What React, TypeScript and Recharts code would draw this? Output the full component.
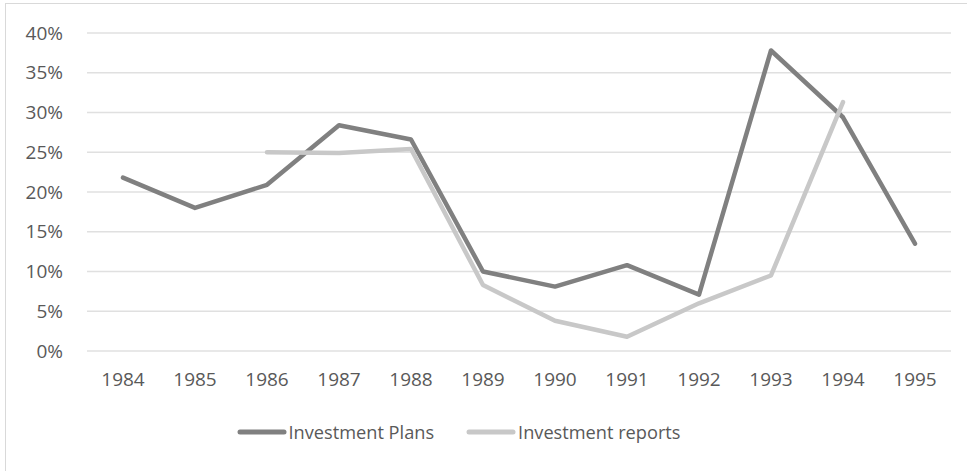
import { CartesianGrid, Legend, Line, LineChart, XAxis, YAxis } from "recharts";

const years = ["1984", "1985", "1986", "1987", "1988", "1989", "1990", "1991", "1992", "1993", "1994", "1995"];
const plans = [21.8, 18.0, 20.9, 28.4, 26.6, 10.0, 8.1, 10.8, 7.1, 37.8, 29.4, 13.5];
const reports = [null, null, 25.0, 24.9, 25.4, 8.3, 3.8, 1.8, 6.0, 9.5, 31.3, null];
const yTicks = [0, 5, 10, 15, 20, 25, 30, 35, 40];

const rows = years.map((year, i) => ({ year, plans: plans[i], reports: reports[i] }));

const FONT = "'Open Sans', sans-serif";
const TEXT = "#595959";
const DARK = "#808080";
const LIGHT = "#c8c8c8";

function LegendBox({ payload }: { payload?: any[] }) {
  return (
    <div style={{ display: "flex", justifyContent: "center", gap: 32, fontFamily: FONT, fontSize: 18.2, color: TEXT }}>
      {(payload || []).map((p) => (
        <div key={p.value} style={{ display: "flex", alignItems: "center" }}>
          <svg width={50} height={10}>
            <line x1={3} y1={5} x2={47} y2={5} stroke={p.color} strokeWidth={5} strokeLinecap="round" />
          </svg>
          <span style={{ marginLeft: 2 }}>{p.value}</span>
        </div>
      ))}
    </div>
  );
}

export default function App() {
  return (
    <div style={{ position: "absolute", left: 0, top: 0, width: 967, height: 471, overflow: "hidden", background: "#fff" }}>
      <div style={{ position: "absolute", left: 5, top: 3, width: 980, height: 490, border: "1px solid #d9d9d9" }} />
      <LineChart width={967} height={471} data={rows} margin={{ top: 33, right: 16, bottom: 44, left: 0 }}>
        <CartesianGrid vertical={false} stroke="#e0e0e0" strokeWidth={1.5} />
        <XAxis
          dataKey="year"
          axisLine={false}
          tickLine={false}
          tickSize={0}
          tickMargin={22}
          height={52}
          interval={0}
          padding={{ left: 36, right: 36 }}
          tick={{ fill: TEXT, fontSize: 19, fontFamily: FONT }}
        />
        <YAxis
          domain={[0, 40]}
          ticks={yTicks}
          width={87}
          axisLine={false}
          tickLine={false}
          tickSize={0}
          tickMargin={24}
          tickFormatter={(v) => `${v}%`}
          tick={{ fill: TEXT, fontSize: 19, fontFamily: FONT }}
        />
        <Legend content={<LegendBox />} wrapperStyle={{ top: 420, bottom: "auto", left: 0, width: 917 }} />
        <Line
          type="linear"
          dataKey="plans"
          name="Investment Plans"
          stroke={DARK}
          strokeWidth={4.5}
          strokeLinecap="round"
          strokeLinejoin="round"
          dot={false}
          activeDot={false}
          isAnimationActive={false}
        />
        <Line
          type="linear"
          dataKey="reports"
          name="Investment reports"
          stroke={LIGHT}
          strokeWidth={4.5}
          strokeLinecap="round"
          strokeLinejoin="round"
          dot={false}
          activeDot={false}
          isAnimationActive={false}
        />
      </LineChart>
    </div>
  );
}
